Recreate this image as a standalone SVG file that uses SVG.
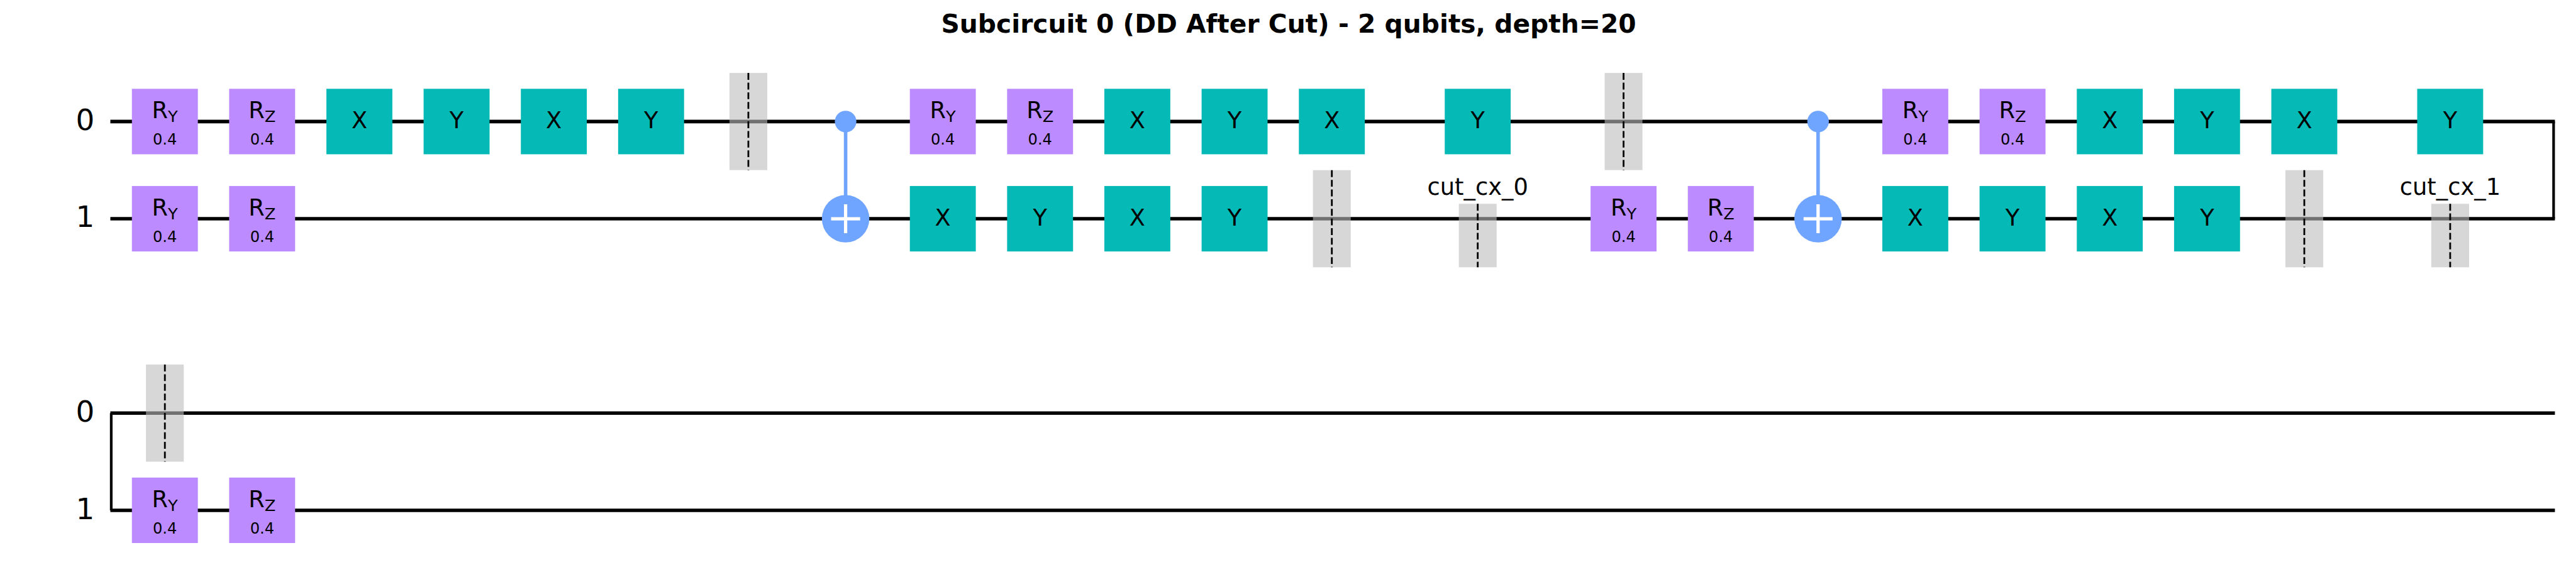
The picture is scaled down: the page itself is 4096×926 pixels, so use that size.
<svg xmlns="http://www.w3.org/2000/svg" width="4096" height="926" viewBox="0 0 4096 926">
<style>
text{font-family:"DejaVu Sans",sans-serif;fill:#000}
.w{stroke:#000;stroke-width:8;fill:none;stroke-linecap:butt}
.wv{stroke:#000;stroke-width:6;fill:none}
.p{fill:#bb8bff}.t{fill:#05bab6}
.g{font-size:52.5px;text-anchor:middle}
.v{font-size:34.5px;text-anchor:middle}
.s{font-size:36.7px}
.b{fill:#bdbdbd;fill-opacity:.6}
.d{stroke:#000;stroke-width:4;stroke-dasharray:15.6 6.4;fill:none}
.c{fill:#6fa4ff}.cl{stroke:#6fa4ff;stroke-width:8;fill:none}.pl{stroke:#fff;stroke-width:7.5;fill:none}
.q{font-size:67px;text-anchor:end}
.n{font-size:52.7px;text-anchor:middle}
</style>
<defs>
<g id="ry"><rect class="p" x="-75" y="-74.5" width="150" height="149"/><text class="g" x="0" y="-7">R<tspan class="s" dy="8.5">Y</tspan></text><text class="v" x="0" y="53">0.4</text></g>
<g id="rz"><rect class="p" x="-75" y="-74.5" width="150" height="149"/><text class="g" x="0" y="-7">R<tspan class="s" dy="8.5">Z</tspan></text><text class="v" x="0" y="53">0.4</text></g>
<g id="x"><rect class="t" x="-75" y="-74.5" width="150" height="149"/><text class="g" x="0" y="15">X</text></g>
<g id="y"><rect class="t" x="-75" y="-74.5" width="150" height="149"/><text class="g" x="0" y="15">Y</text></g>
<g id="bar"><rect class="b" x="-43" y="-110.5" width="86" height="221"/><path class="d" d="M0-110.5V110.5"/></g>
<g id="cut"><rect class="b" x="-43" y="-34" width="86" height="144.500"/><path class="d" d="M0-34V110.500"/></g>
<g id="cx"><path class="cl" d="M0-221.200V0"/><circle class="c" cx="0" cy="-221.200" r="24.500"/><circle class="c" cx="0" cy="0" r="54"/><path class="pl" d="M-33 0H33M0-33V33"/></g>
</defs>
<g transform="scale(0.6991)">
<text id="title" x="2931" y="75" font-size="58.3" font-weight="700" text-anchor="middle">Subcircuit 0 (DD After Cut) - 2 qubits, depth=20</text>
<g id="wire-labels">
<text class="q" x="215" y="296">0</text><text class="q" x="215" y="517">1</text><text class="q" x="215" y="960">0</text><text class="q" x="215" y="1181">1</text>
</g>
<g id="connectors">
<path class="w" d="M251 276.600H5811"/><path class="w" d="M251 497.800H5811"/><path class="wv" d="M5808 276.600V497.800"/>
<path class="w" d="M251 940.200H5811"/><path class="w" d="M251 1161.400H5811"/><path class="wv" d="M253 940.200V1161.400"/>
</g>
<g id="n0"><use href="#ry" x="375" y="276.600"/></g>
<g id="n1"><use href="#rz" x="596.200" y="276.600"/></g>
<g id="n2"><use href="#x" x="817.400" y="276.600"/></g>
<g id="n3"><use href="#y" x="1038.500" y="276.600"/></g>
<g id="n4"><use href="#x" x="1259.700" y="276.600"/></g>
<g id="n5"><use href="#y" x="1480.900" y="276.600"/></g>
<g id="n6"><use href="#bar" x="1702.100" y="276.600"/></g>
<g id="n7"><use href="#cx" x="1923.300" y="497.800"/></g>
<g id="n8"><use href="#ry" x="2144.400" y="276.600"/></g>
<g id="n9"><use href="#rz" x="2365.600" y="276.600"/></g>
<g id="n10"><use href="#x" x="2586.800" y="276.600"/></g>
<g id="n11"><use href="#y" x="2808" y="276.600"/></g>
<g id="n12"><use href="#x" x="3029.200" y="276.600"/></g>
<g id="n13"><use href="#y" x="3361" y="276.600"/></g>
<g id="n14"><use href="#bar" x="3692.700" y="276.600"/></g>
<g id="n15"><use href="#cx" x="4135.100" y="497.800"/></g>
<g id="n16"><use href="#ry" x="4356.200" y="276.600"/></g>
<g id="n17"><use href="#rz" x="4577.400" y="276.600"/></g>
<g id="n18"><use href="#x" x="4798.600" y="276.600"/></g>
<g id="n19"><use href="#y" x="5019.800" y="276.600"/></g>
<g id="n20"><use href="#x" x="5241" y="276.600"/></g>
<g id="n21"><use href="#y" x="5572.800" y="276.600"/></g>
<g id="n22"><use href="#ry" x="375" y="497.800"/></g>
<g id="n23"><use href="#rz" x="596.200" y="497.800"/></g>
<g id="n24"><use href="#x" x="2144.400" y="497.800"/></g>
<g id="n25"><use href="#y" x="2365.600" y="497.800"/></g>
<g id="n26"><use href="#x" x="2586.800" y="497.800"/></g>
<g id="n27"><use href="#y" x="2808" y="497.800"/></g>
<g id="n28"><use href="#bar" x="3029.200" y="497.800"/></g>
<g id="n29"><use href="#cut" x="3361" y="497.800"/><text class="n" x="3361" y="444">cut_cx_0</text></g>
<g id="n30"><use href="#ry" x="3692.700" y="497.800"/></g>
<g id="n31"><use href="#rz" x="3913.900" y="497.800"/></g>
<g id="n32"><use href="#x" x="4356.200" y="497.800"/></g>
<g id="n33"><use href="#y" x="4577.400" y="497.800"/></g>
<g id="n34"><use href="#x" x="4798.600" y="497.800"/></g>
<g id="n35"><use href="#y" x="5019.800" y="497.800"/></g>
<g id="n36"><use href="#bar" x="5241" y="497.800"/></g>
<g id="n37"><use href="#cut" x="5572.800" y="497.800"/><text class="n" x="5572.800" y="444">cut_cx_1</text></g>
<g id="n38"><use href="#bar" x="375" y="940.200"/></g>
<g id="n39"><use href="#ry" x="375" y="1161.400"/></g>
<g id="n40"><use href="#rz" x="596.200" y="1161.400"/></g>
</g>
</svg>
